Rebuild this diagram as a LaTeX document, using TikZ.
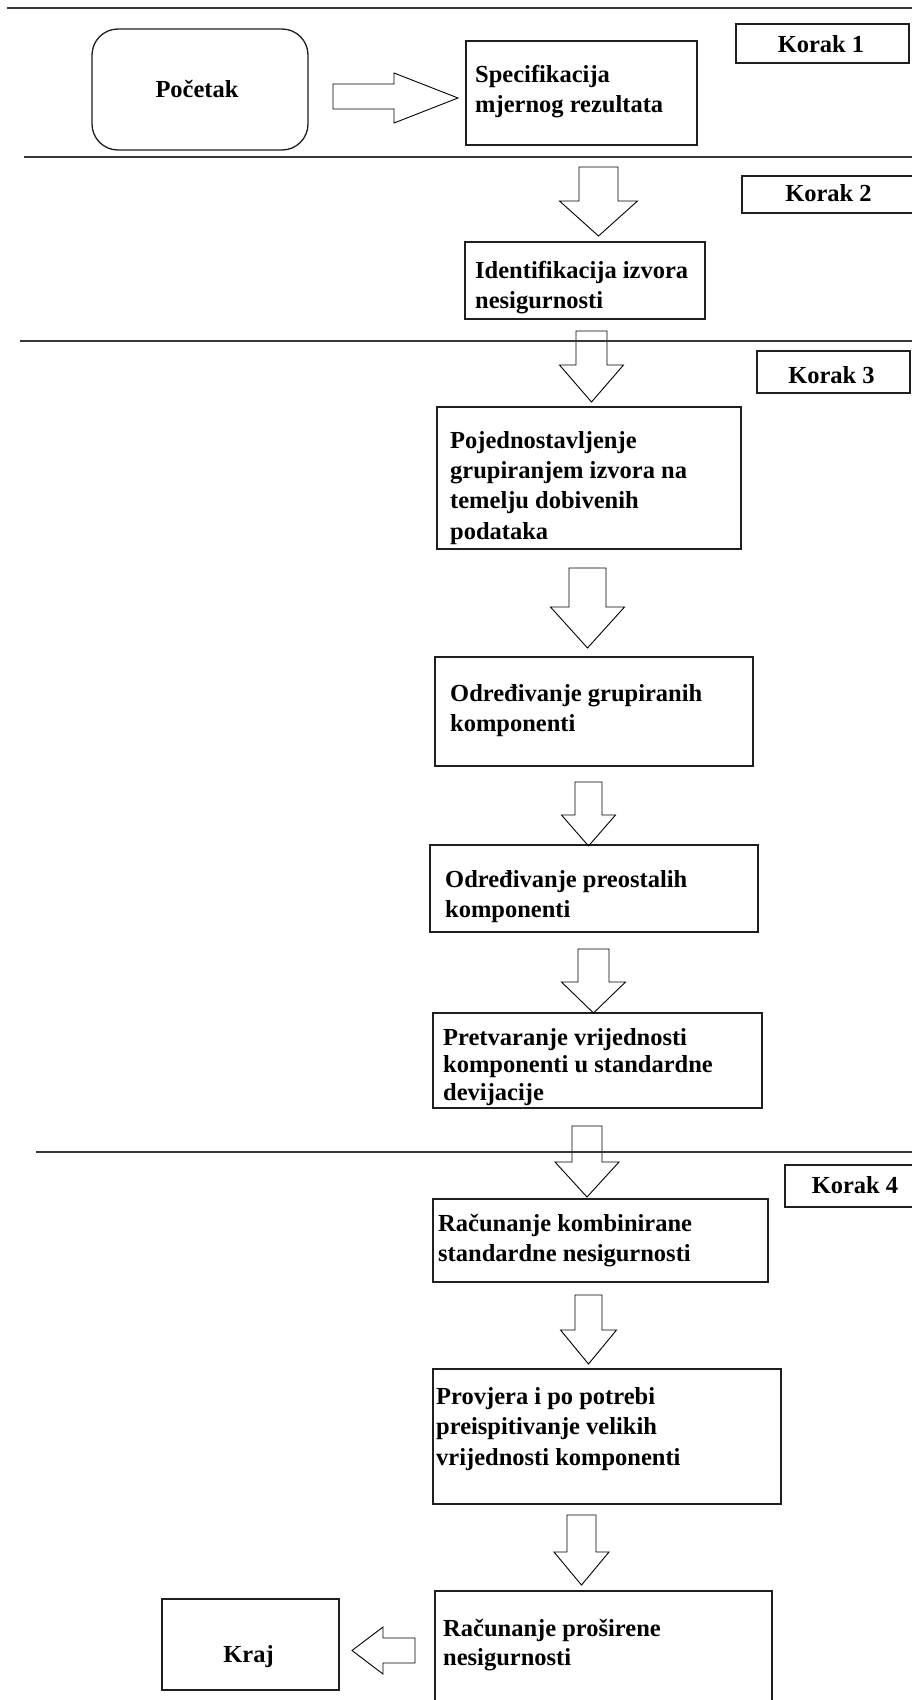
\documentclass[tikz,border=0pt]{standalone}
\usepackage{fontspec}
\setmainfont{Liberation Serif}
\newcommand\dnarrow[6]{%
  \draw[blk] ({#1-#3},#2) -- ({#1+#3},#2) -- ({#1+#3},#4) -- ({#1+#5},#4) -- (#1,#6) -- ({#1-#5},#4) -- ({#1-#3},#4) -- cycle;}
\begin{document}
\begin{tikzpicture}[x=1pt,y=-1pt]
\tikzset{
  box/.style={draw=black!88, line width=1.3pt, inner sep=0pt, rectangle},
  txt/.style={font=\bfseries\fontsize{24.5}{30}\selectfont, align=left, inner sep=0pt, anchor=base west},
  ctxt/.style={font=\bfseries\fontsize{24.5}{30}\selectfont, inner sep=0pt, anchor=base},
  sep/.style={draw=black!78, line width=1.8pt},
  blk/.style={draw=black, line width=0.9pt, line join=miter},
}
\useasboundingbox (0,0) rectangle (912,1700);
\fill[white] (0,0) rectangle (912,1700);

% boxes
\node[box, rounded corners=26pt, minimum width=216pt, minimum height=121pt] (start) at (200,89.5) {};
\node[box, minimum width=231pt, minimum height=104pt] (spec) at (581.5,93) {};
\node[box, minimum width=173pt, minimum height=39pt] (k1) at (822.5,43.5) {};
\node[box, minimum width=173pt, minimum height=37pt] (k2) at (828.5,194.5) {};
\node[box, minimum width=240pt, minimum height=77pt] (ident) at (585,280.5) {};
\node[box, minimum width=153pt, minimum height=42pt] (k3) at (833.5,372) {};
\node[box, minimum width=304pt, minimum height=142pt] (pojed) at (589,478) {};
\node[box, minimum width=318pt, minimum height=109pt] (grup) at (594,711.5) {};
\node[box, minimum width=328pt, minimum height=87pt] (preos) at (594,888.5) {};
\node[box, minimum width=329pt, minimum height=95pt] (pretv) at (597.5,1060.5) {};
\node[box, minimum width=140pt, minimum height=42pt] (k4) at (855,1186) {};
\node[box, minimum width=335pt, minimum height=83pt] (komb) at (600.5,1240.5) {};
\node[box, minimum width=348pt, minimum height=135pt] (provj) at (607,1436.5) {};
\node[box, minimum width=337pt, minimum height=129pt] (pros) at (603.5,1655.5) {};
\node[box, minimum width=177pt, minimum height=91pt] (kraj) at (250.5,1644.5) {};

% texts (multi-line nodes: base = baseline of last line)
\node[ctxt] (tstart) at (197,97) {Početak};
\node[txt] (tspec) at (475,112) {Specifikacija\\mjernog rezultata};
\node[ctxt] (tk1) at (821,52) {Korak 1};
\node[ctxt] (tk2) at (828.5,201) {Korak 2};
\node[txt] (tident) at (475,308) {Identifikacija izvora\\nesigurnosti};
\node[ctxt] (tk3) at (831.5,383) {Korak 3};
\node[txt, font=\bfseries\fontsize{24.5}{30.3}\selectfont] (tpojed) at (450,539) {Pojednostavljenje\\grupiranjem izvora na\\temelju dobivenih\\podataka};
\node[txt] (tgrup) at (450,731) {Određivanje grupiranih\\komponenti};
\node[txt] (tpreos) at (445,917) {Određivanje preostalih\\komponenti};
\node[txt, font=\bfseries\fontsize{24.5}{27.5}\selectfont] (tpretv) at (443,1100) {Pretvaranje vrijednosti\\komponenti u standardne\\devijacije};
\node[ctxt] (tk4) at (855,1193) {Korak 4};
\node[txt] (tkomb) at (438,1261) {Računanje kombinirane\\standardne nesigurnosti};
\node[txt, font=\bfseries\fontsize{24.5}{30.5}\selectfont] (tprovj) at (436,1465) {Provjera i po potrebi\\preispitivanje velikih\\vrijednosti komponenti};
\node[txt, font=\bfseries\fontsize{24.5}{29}\selectfont] (tpros) at (443,1665) {Računanje proširene\\nesigurnosti};
\node[ctxt] (tkraj) at (248.5,1662) {Kraj};

% block arrows
\draw[blk] (333,84) -- (394,84) -- (394,73) -- (458,98) -- (394,123) -- (394,109) -- (333,109) -- cycle;
\dnarrow{598.5}{167}{19.5}{201}{39}{236}
\dnarrow{591.5}{331}{15.5}{365}{32}{402}
\dnarrow{587.5}{568}{18.5}{607}{37}{648}
\dnarrow{588.5}{782}{13.5}{815}{27}{846}
\dnarrow{593.5}{949}{15.5}{982}{32}{1013}
\dnarrow{587}{1126}{15}{1162}{32}{1197}
\dnarrow{588.5}{1295}{13.5}{1330}{28}{1364}
\dnarrow{581.5}{1515}{14.5}{1552}{27.5}{1585}
\draw[blk] (415,1638) -- (383,1638) -- (383,1627) -- (352,1650.5) -- (383,1674) -- (383,1663) -- (415,1663) -- cycle;

% separator lines
\draw[sep] (7,8) -- (912,8);
\draw[sep] (24,157) -- (912,157);
\draw[sep] (20,341) -- (912,341);
\draw[sep] (36,1152) -- (912,1152);
\end{tikzpicture}
\end{document}
